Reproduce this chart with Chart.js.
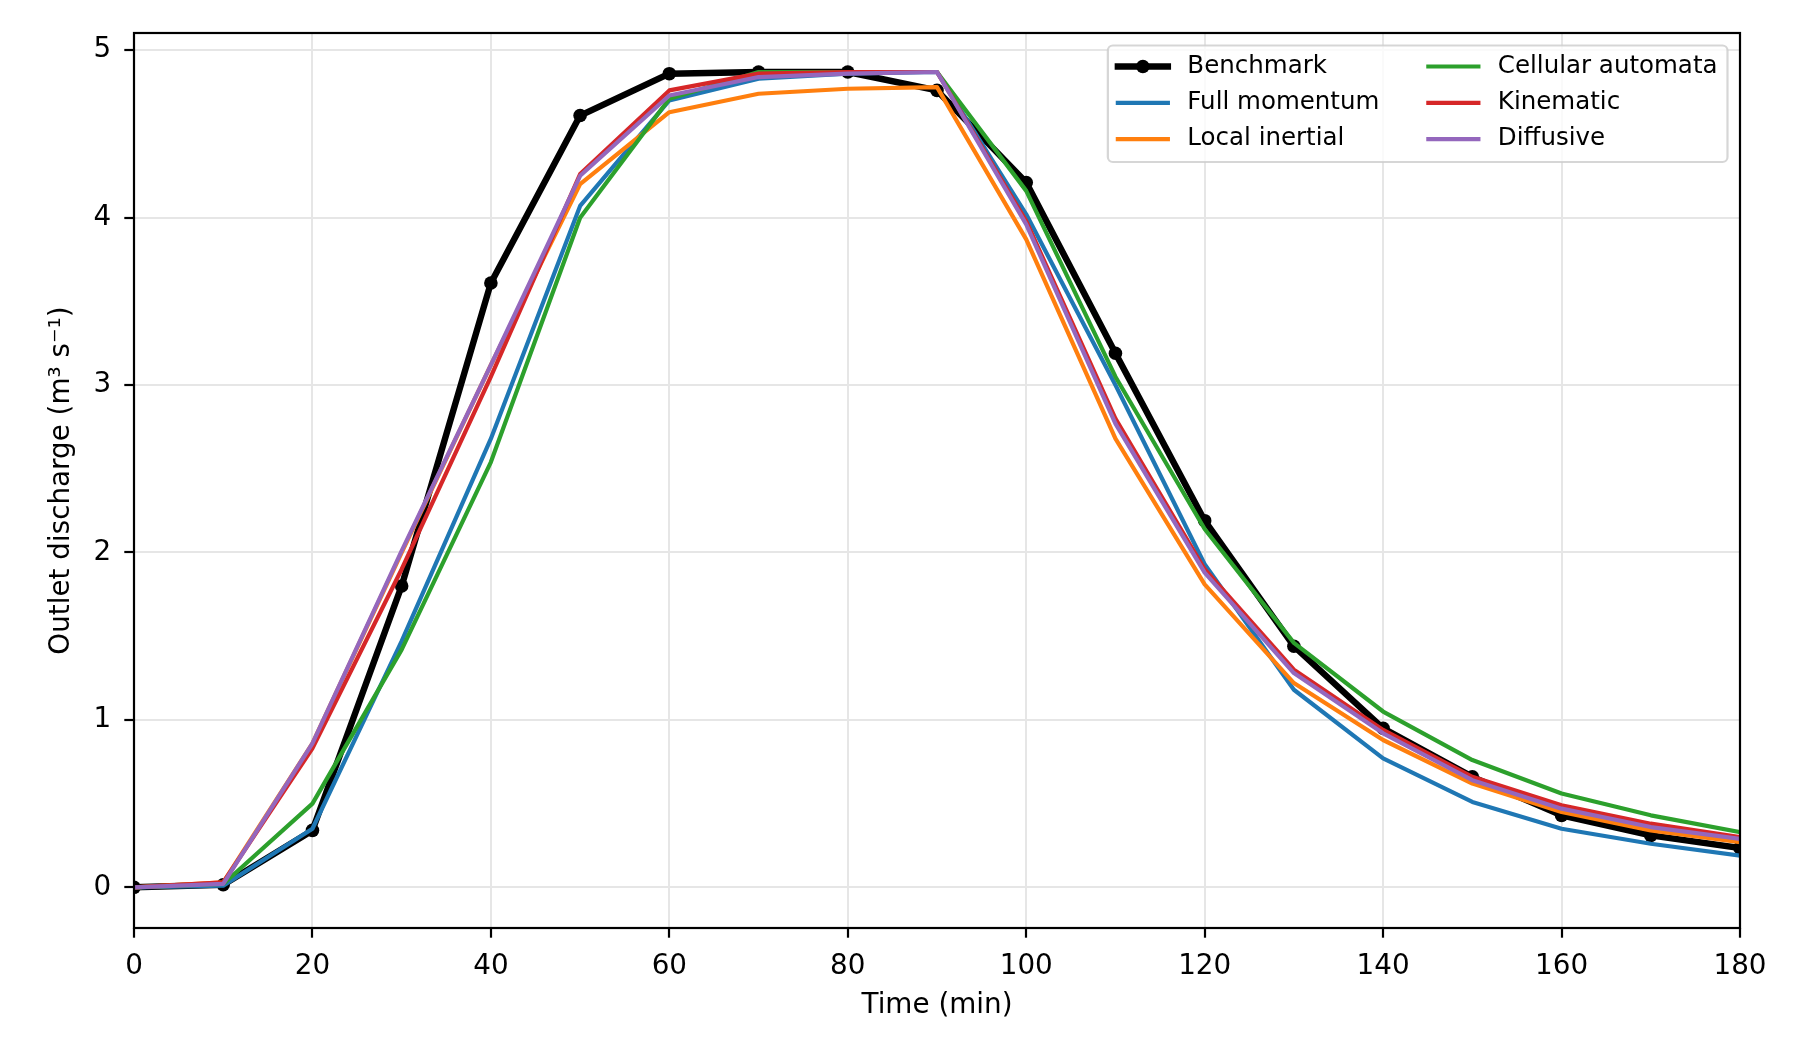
<!DOCTYPE html>
<html>
<head>
<meta charset="utf-8">
<script src="https://cdn.jsdelivr.net/npm/chart.js@4"></script>
<style>
  html, body { margin: 0; padding: 0; background: #fff; }
  canvas { display: block; }
</style>
</head>
<body>
<canvas id="chart" width="1801" height="1056"></canvas>
<script>
// Data
const timeMin = [0, 10, 20, 30, 40, 50, 60, 70, 80, 90, 100, 110, 120, 130, 140, 150, 160, 170, 180];
const benchmark = [0, 0.015, 0.34, 1.80, 3.61, 4.61, 4.86, 4.87, 4.87, 4.76, 4.21, 3.19, 2.19, 1.44, 0.95, 0.66, 0.43, 0.31, 0.235];
const fullMomentum = [0, 0.01, 0.35, 1.47, 2.68, 4.07, 4.70, 4.83, 4.86, 4.87, 4.02, 3.00, 1.93, 1.18, 0.77, 0.51, 0.35, 0.26, 0.19];
const localInertial = [0, 0.03, 0.86, 2.00, 3.12, 4.20, 4.63, 4.74, 4.77, 4.78, 3.87, 2.68, 1.81, 1.22, 0.88, 0.62, 0.45, 0.34, 0.27];
const cellularAutomata = [0, 0.02, 0.50, 1.42, 2.54, 4.00, 4.71, 4.87, 4.87, 4.87, 4.16, 3.05, 2.14, 1.46, 1.05, 0.76, 0.56, 0.43, 0.33];
const kinematic = [0, 0.03, 0.83, 1.90, 3.05, 4.26, 4.76, 4.86, 4.87, 4.87, 3.98, 2.80, 1.90, 1.30, 0.94, 0.66, 0.49, 0.38, 0.30];
const diffusive = [0, 0.02, 0.86, 2.01, 3.12, 4.25, 4.73, 4.84, 4.86, 4.87, 3.96, 2.77, 1.88, 1.28, 0.92, 0.64, 0.47, 0.36, 0.29];

const xTicks = [0, 20, 40, 60, 80, 100, 120, 140, 160, 180];
const yTicks = [0, 1, 2, 3, 4, 5];

const FONT = '"DejaVu Sans", sans-serif';
const tickFont = { family: FONT, size: 27.8 };

function toPoints(ys) {
    return ys.map((y, i) => ({ x: timeMin[i], y: y }));
}

function lineSet(label, values, color, width, order) {
    return {
        label: label,
        data: toPoints(values),
        borderColor: color,
        backgroundColor: color,
        borderWidth: width,
        borderJoinStyle: 'round',
        borderCapStyle: 'square',
        pointRadius: 0,
        tension: 0,
        fill: false,
        order: order
    };
}

const datasets = [
    Object.assign(lineSet('Benchmark', benchmark, '#000000', 6.4, 6), {
        pointRadius: 6.8,
        pointBorderWidth: 0,
        pointBackgroundColor: '#000000'
    }),
    lineSet('Full momentum', fullMomentum, '#1f77b4', 4.2, 5),
    lineSet('Local inertial', localInertial, '#ff7f0e', 4.2, 4),
    lineSet('Cellular automata', cellularAutomata, '#2ca02c', 4.2, 3),
    lineSet('Kinematic', kinematic, '#d62728', 4.2, 2),
    lineSet('Diffusive', diffusive, '#9467bd', 4.2, 1)
];

// Axes frame (all four spines)
const framePlugin = {
    id: 'frame',
    afterDatasetsDraw(chart) {
        const { ctx, chartArea: a } = chart;
        ctx.save();
        ctx.strokeStyle = '#000';
        ctx.lineWidth = 2.2;
        ctx.strokeRect(a.left, a.top, a.right - a.left, a.bottom - a.top);
        ctx.restore();
    }
};

// matplotlib-style legend in the upper right, 2 columns, column-major
const legendPlugin = {
    id: 'insideLegend',
    afterDraw(chart) {
        const { ctx, chartArea: a } = chart;
        const fs = 24.5;
        const pad = 10;
        const handleLen = 50;
        const textPad = 19.5;
        const colGap = 49;
        const rowPitch = 36.3;
        const nRows = 3;
        const items = chart.data.datasets;
        const cols = [items.slice(0, nRows), items.slice(nRows)];

        ctx.save();
        ctx.font = fs + 'px ' + FONT;
        const colW = cols.map(c => handleLen + textPad + Math.max(...c.map(d => ctx.measureText(d.label).width)));
        const boxW = pad * 2 + colW[0] + colGap + colW[1];
        const boxH = 116.5;
        const right = a.right - 12.5;
        const top = a.top + 12.5;
        const left = right - boxW;

        ctx.beginPath();
        ctx.roundRect(left, top, boxW, boxH, 5);
        ctx.fillStyle = 'rgba(255,255,255,0.8)';
        ctx.fill();
        ctx.strokeStyle = 'rgba(204,204,204,0.8)';
        ctx.lineWidth = 2.2;
        ctx.stroke();

        let x = left + pad;
        cols.forEach((c, ci) => {
            c.forEach((d, ri) => {
                const y = top + 21 + ri * rowPitch;
                ctx.beginPath();
                ctx.moveTo(x, y);
                ctx.lineTo(x + handleLen, y);
                ctx.strokeStyle = d.borderColor;
                ctx.lineWidth = d.borderWidth;
                ctx.lineCap = 'square';
                ctx.stroke();
                if (d.pointRadius > 0) {
                    ctx.beginPath();
                    ctx.arc(x + handleLen / 2, y, d.pointRadius, 0, Math.PI * 2);
                    ctx.fillStyle = d.pointBackgroundColor;
                    ctx.fill();
                }
                ctx.fillStyle = '#000';
                ctx.textBaseline = 'middle';
                ctx.textAlign = 'left';
                ctx.fillText(d.label, x + handleLen + textPad, y);
            });
            x += colW[ci] + colGap;
        });
        ctx.restore();
    }
};

const gridOpts = {
    color: '#e6e6e6',
    lineWidth: 2,
    tickColor: '#000',
    tickWidth: 2.2,
    tickLength: 9.7
};

new Chart(document.getElementById('chart').getContext('2d'), {
    type: 'line',
    data: { datasets: datasets },
    options: {
        responsive: false,
        devicePixelRatio: 1,
        animation: false,
        layout: {
            autoPadding: false,
            padding: { left: 41, right: 61, top: 33, bottom: 30 }
        },
        scales: {
            x: {
                type: 'linear',
                min: 0,
                max: 180,
                afterBuildTicks: s => { s.ticks = xTicks.map(v => ({ value: v })); },
                afterFit: s => { s.height = 98; },
                ticks: { color: '#000', font: tickFont, padding: 12, maxRotation: 0, autoSkip: false },
                grid: gridOpts,
                border: { display: false },
                title: {
                    display: true,
                    text: 'Time (min)',
                    color: '#000',
                    font: tickFont,
                    padding: { top: 4, bottom: 4 }
                }
            },
            y: {
                type: 'linear',
                min: -0.243,
                max: 5.103,
                afterBuildTicks: s => { s.ticks = yTicks.map(v => ({ value: v })); },
                afterFit: s => { s.width = 93; },
                ticks: { color: '#000', font: tickFont, padding: 13 },
                grid: gridOpts,
                border: { display: false },
                title: {
                    display: true,
                    text: 'Outlet discharge (m³ s⁻¹)',
                    color: '#000',
                    font: tickFont,
                    padding: { top: 4, bottom: 4 }
                }
            }
        },
        plugins: {
            legend: { display: false },
            tooltip: { enabled: false }
        }
    },
    plugins: [framePlugin, legendPlugin]
});
</script>
</body>
</html>
